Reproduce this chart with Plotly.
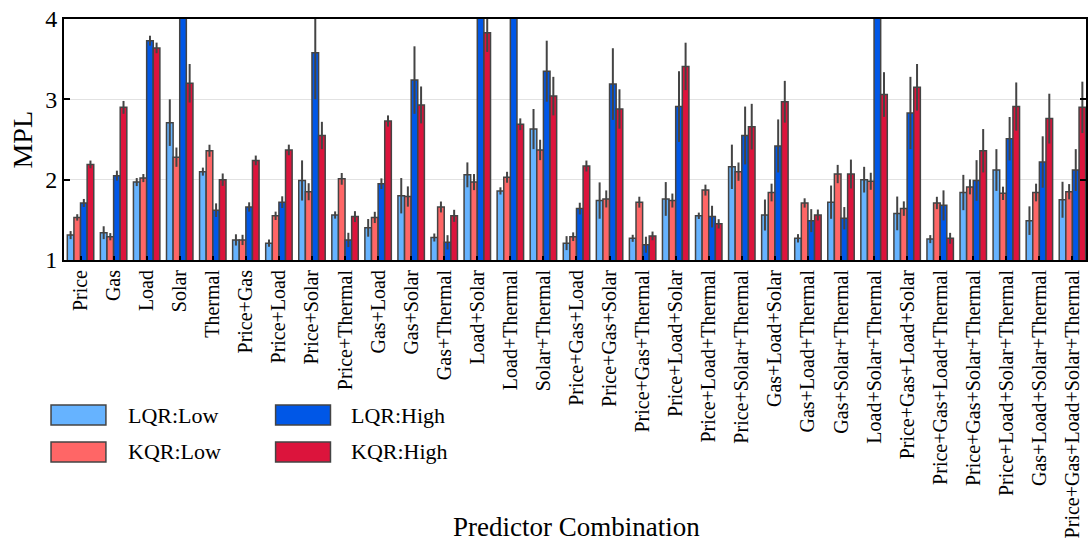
import plotly.graph_objects as go

# Predictor combinations on the x axis
categories = [
    "Price", "Gas", "Load", "Solar", "Thermal",
    "Price+Gas", "Price+Load", "Price+Solar", "Price+Thermal",
    "Gas+Load", "Gas+Solar", "Gas+Thermal", "Load+Solar", "Load+Thermal",
    "Solar+Thermal", "Price+Gas+Load", "Price+Gas+Solar", "Price+Gas+Thermal",
    "Price+Load+Solar", "Price+Load+Thermal", "Price+Solar+Thermal",
    "Gas+Load+Solar", "Gas+Load+Thermal", "Gas+Solar+Thermal",
    "Load+Solar+Thermal", "Price+Gas+Load+Solar", "Price+Gas+Load+Thermal",
    "Price+Gas+Solar+Thermal", "Price+Load+Solar+Thermal",
    "Gas+Load+Solar+Thermal", "Price+Gas+Load+Solar+Thermal",
]

series_names = ["LQR:Low", "KQR:Low", "LQR:High", "KQR:High"]
series_colors = ["#66b3ff", "#ff6666", "#0057e7", "#dc143c"]

# Mean MPL per combination and its error half-width
lqr_low = [1.31, 1.34, 1.97, 2.71, 2.10, 1.25, 1.21, 1.99, 1.56, 1.40, 1.80,
           1.28, 2.06, 1.86, 2.63, 1.21, 1.74, 1.27, 1.76, 1.55, 2.16, 1.56,
           1.27, 1.72, 2.00, 1.58, 1.26, 1.84, 2.12, 1.49, 1.75]
lqr_low_err = [0.05, 0.08, 0.05, 0.29, 0.05, 0.07, 0.045, 0.25, 0.045, 0.11,
               0.22, 0.05, 0.155, 0.045, 0.25, 0.087, 0.226, 0.044, 0.21, 0.04,
               0.276, 0.193, 0.052, 0.207, 0.16, 0.21, 0.05, 0.22, 0.26, 0.178,
               0.224]

kqr_low = [1.53, 1.29, 2.02, 2.28, 2.36, 1.25, 1.55, 1.85, 2.01, 1.53, 1.79,
           1.66, 1.97, 2.03, 2.37, 1.29, 1.76, 1.72, 1.74, 1.87, 2.10, 1.84,
           1.71, 2.07, 1.98, 1.64, 1.71, 1.91, 1.83, 1.84, 1.85]
kqr_low_err = [0.04, 0.045, 0.05, 0.12, 0.075, 0.064, 0.052, 0.106, 0.073,
               0.07, 0.126, 0.068, 0.1, 0.068, 0.127, 0.054, 0.106, 0.068,
               0.087, 0.068, 0.114, 0.11, 0.058, 0.114, 0.106, 0.09, 0.077,
               0.093, 0.083, 0.11, 0.095]

lqr_high = [1.71, 2.05, 3.73, 4.45, 1.62, 1.66, 1.72, 3.58, 1.25, 1.95, 3.24,
            1.22, 4.60, 4.50, 3.35, 1.64, 3.19, 1.19, 2.91, 1.54, 2.55, 2.42,
            1.49, 1.52, 4.40, 2.83, 1.68, 1.99, 2.51, 2.22, 2.12]
lqr_high_err = [0.05, 0.062, 0.062, 0.3, 0.085, 0.058, 0.073, 0.58, 0.089,
                0.066, 0.42, 0.089, 0.35, 0.3, 0.38, 0.073, 0.446, 0.1, 0.44,
                0.135, 0.36, 0.33, 0.143, 0.139, 0.35, 0.45, 0.187, 0.253,
                0.27, 0.32, 0.26]

kqr_high = [2.19, 2.90, 3.64, 3.20, 2.00, 2.24, 2.37, 2.55, 1.54, 2.73, 2.93,
            1.55, 3.83, 2.69, 3.04, 2.17, 2.88, 1.30, 3.41, 1.45, 2.66, 2.97,
            1.56, 2.07, 3.06, 3.15, 1.27, 2.36, 2.91, 2.76, 2.90]
kqr_high_err = [0.048, 0.08, 0.066, 0.24, 0.077, 0.06, 0.066, 0.17, 0.068,
                0.07, 0.23, 0.075, 0.24, 0.073, 0.24, 0.068, 0.245, 0.054,
                0.295, 0.058, 0.284, 0.26, 0.068, 0.18, 0.278, 0.29, 0.068,
                0.27, 0.30, 0.31, 0.32]

series_values = [lqr_low, kqr_low, lqr_high, kqr_high]
series_errors = [lqr_low_err, kqr_low_err, lqr_high_err, kqr_high_err]

FONT = "Liberation Serif, Times New Roman, serif"
EDGE = "#444444"

W, H = 1088, 543
ML, MR, MT, MB = 64, 0, 19, 283
PW, PH = W - ML - MR, H - MT - MB

fig = go.Figure()
for name, color, vals, errs in zip(series_names, series_colors,
                                   series_values, series_errors):
    fig.add_trace(go.Bar(
        x=categories, y=vals, name=name,
        marker=dict(color=color, line=dict(color=EDGE, width=1.5)),
        error_y=dict(type="data", array=errs, visible=True,
                     color=EDGE, thickness=2, width=0),
        showlegend=False,
    ))


def px_x(px):
    return (px - ML) / PW


def px_y(py):
    return (H - MB - py) / PH


# Hand-built legend: two columns of wide swatches with labels
shapes = []
annotations = []
legend_cols = [(51, 128), (276, 352)]
legend_rows = [405, 442]
for i, (name, color) in enumerate(zip(series_names, series_colors)):
    col = i // 2
    row = i % 2
    sx, tx = legend_cols[col]
    sy = legend_rows[row]
    shapes.append(dict(
        type="rect", xref="paper", yref="paper",
        x0=px_x(sx), x1=px_x(sx + 55), y0=px_y(sy), y1=px_y(sy + 20),
        fillcolor=color, line=dict(color=EDGE, width=1.5),
    ))
    annotations.append(dict(
        text=name, xref="paper", yref="paper",
        x=px_x(tx - 2), y=px_y(sy + 10), xanchor="left", yanchor="middle",
        showarrow=False, font=dict(family=FONT, size=22, color="black"),
    ))

annotations.append(dict(
    text="Predictor Combination", xref="paper", yref="paper",
    x=px_x((ML + 1091) / 2), y=px_y(527), xanchor="center", yanchor="middle",
    showarrow=False, font=dict(family=FONT, size=27, color="black"),
))
annotations.append(dict(
    text="MPL", xref="paper", yref="paper",
    x=px_x(22), y=0.5, xanchor="center", yanchor="middle", textangle=-90,
    showarrow=False, font=dict(family=FONT, size=28, color="black"),
))

fig.update_layout(
    width=W, height=H,
    margin=dict(l=ML, r=MR, t=MT, b=MB, pad=0),
    barmode="group", bargap=0.2, bargroupgap=0.0,
    plot_bgcolor="white", paper_bgcolor="white",
    font=dict(family=FONT, color="black"),
    shapes=shapes, annotations=annotations,
)
fig.update_xaxes(
    range=[-0.5, 30.41], tickangle=-90,
    tickfont=dict(family=FONT, size=20, color="black"),
    ticks="inside", ticklen=4, tickwidth=1.5, tickcolor="black",
    showline=True, linecolor="black", linewidth=2, mirror=True,
    showgrid=False,
)
fig.update_yaxes(
    range=[1, 4], tickvals=[1, 2, 3, 4],
    tickfont=dict(family=FONT, size=24, color="black"),
    ticks="inside", ticklen=6, tickwidth=1.5, tickcolor="black",
    showline=True, linecolor="black", linewidth=2, mirror="ticks",
    showgrid=True, gridcolor="#e2e2e2", gridwidth=1, zeroline=False,
)

fig.write_html("out.html")
